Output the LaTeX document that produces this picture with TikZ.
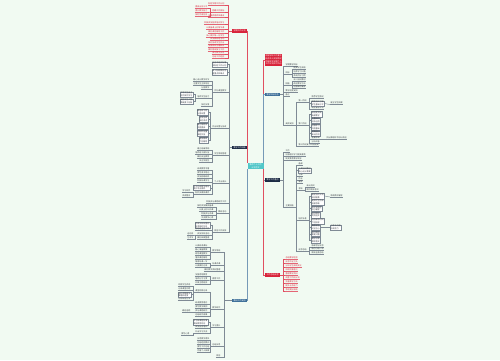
\documentclass[tikz,border=0pt]{standalone}
\usepackage{fontspec}
\newfontfamily\cjk{Noto Sans CJK SC}
\usetikzlibrary{calc}

\definecolor{bgmint}{HTML}{F1FAF2}
\definecolor{redmain}{HTML}{D8233A}
\definecolor{navymain}{HTML}{1C2B45}
\definecolor{bluemain}{HTML}{3C6E98}
\definecolor{cyanmain}{HTML}{52C7C9}
\definecolor{linegray}{HTML}{7F8A95}
\definecolor{txtgray}{HTML}{3A3F45}
\definecolor{redtxt}{HTML}{D8233A}

\tikzset{
  base/.style={font=\cjk\fontsize{2}{2.6}\selectfont, inner sep=0.4pt},
  mainnode/.style={base, text=white, minimum width=15pt, minimum height=3.6pt, inner sep=0.3pt},
  gleaf/.style={base, text=txtgray, append after command={(\tikzlastnode.south west) edge[draw=linegray, line width=0.25pt] (\tikzlastnode.south east)}},
  rleaf/.style={base, text=redtxt, append after command={(\tikzlastnode.south west) edge[draw=redtxt!70, line width=0.25pt] (\tikzlastnode.south east)}},
  note/.style={base, draw=linegray, line width=0.25pt, fill=white, text=txtgray, align=left, inner sep=0.5pt},
  ln/.style={draw=linegray, line width=0.45pt},
  rln/.style={draw=redtxt!80, line width=0.45pt},
}

\begin{document}
\begin{tikzpicture}[x=1pt,y=-1pt]
  % page and background
  \fill[bgmint] (0,0) rectangle (500,360);
  \useasboundingbox (0,0) rectangle (500,360);

  % centre and main nodes
  \node[mainnode, fill=cyanmain, minimum width=16pt, minimum height=6pt, align=center] (centre) at (255.5,166) {教师个人工作\\计划范文};
  \node[mainnode, fill=redmain] (lred) at (239.5,31) {学期工作计划};
  \node[mainnode, fill=navymain] (lnavy) at (239.5,147.5) {教学工作措施};
  \node[mainnode, fill=bluemain] (lblue) at (239.5,300.5) {教研工作安排};
  \node[base, fill=redmain, text=white, align=left, inner sep=0.8pt] (rnote) at (273.5,60) {根据学校工作要求\\结合本人实际情况\\特制定本学期个人\\工作计划如下所示};
  \node[mainnode, fill=bluemain] (rblue) at (272.5,94.5) {教学目标任务};
  \node[mainnode, fill=navymain] (rnavy) at (272.5,180) {教学工作重点};
  \node[mainnode, fill=redmain] (rred) at (272.5,275) {工作总结反思};

  \draw[ln] (centre.north west) |- (lnavy.east);
  \draw[ln, draw=bluemain!70] (centre.south west) |- (lblue.east);
  \draw[rln] (centre.north west) |- (lred.east);
  \draw[rln] (centre.north east) |- (rnote.west);
  \draw[ln, draw=bluemain!70] (centre.north east) |- (rblue.west);
  \draw[ln] (centre.south east) |- (rnavy.west);
  \draw[rln] (centre.south east) |- (rred.west);

  % left red branch
  \foreach \i/\y/\t in {1/5/制定学期工作计划, 2/12/明确工作目标, 3/17/加强师德师风建设, 4/24/积极参加各类培训学习, 5/29/认真备课上好每节课, 6/33/做好课后辅导工作, 7/37/关心爱护每一位学生, 8/40.5/参加教研组活动, 9/44/及时批改学生作业, 10/47.5/加强家校沟通联系, 11/51/做好期末复习工作, 12/54.5/撰写教学反思, 13/58/总结工作经验}
  {
    \node[rleaf, anchor=south east] (lr\i) at (225,\y) {\t};
    \draw[rln] (lred.west) -- ++(-4,0) |- (lr\i.south east);
  }
  \foreach \j/\y/\t in {1/8/提高业务水平, 2/12/提升教学能力, 3/16/按时完成任务}
  {
    \node[rleaf, anchor=south east] (lr2-\j) at (208,\y) {\t};
    \draw[rln] (lr2.south west) -- ++(-2,0) |- (lr2-\j.south east);
  }

  % left navy branch
  \node[note, anchor=east] (ln1) at (227,64.5) {结合本班实际情\\况制定工作计划};
  \node[note, anchor=east] (ln2) at (227,72) {深入钻研教材把\\握重点和难点};
  \node[gleaf, anchor=south east] (ln3) at (227,92) {优化课堂教学};
  \node[gleaf, anchor=south east] (ln4) at (227,128) {作业布置与批改};
  \node[gleaf, anchor=south east] (ln5) at (227,155) {学生常规管理};
  \node[gleaf, anchor=south east] (ln6) at (227,183) {个人专业成长};
  \node[gleaf, anchor=south east] (ln7) at (227,203) {积极参与课题研究工作};
  \node[gleaf, anchor=south east] (ln8) at (227,213) {教研活动};
  \node[gleaf, anchor=south east] (ln9) at (227,232) {其他工作安排};
  \draw[ln] (lnavy.west) -- ++(-3,0) |- (ln1.east);
  \draw[ln] (lnavy.west) -- ++(-3,0) |- (ln2.east);
  \foreach \k in {3,...,9}
    \draw[ln] (lnavy.west) -- ++(-3,0) |- (ln\k.south east);

  \foreach \j/\y/\t in {1/81/精心设计教学环节, 2/85/注重学生主体地位, 3/89/分层教学, 4/98/培养学生能力, 5/106/及时反馈}
  {
    \node[gleaf, anchor=south east] (ln3-\j) at (210,\y) {\t};
    \draw[ln] (ln3.south west) -- ++(-2,0) |- (ln3-\j.south east);
  }
  \node[note, anchor=east] (ln3-4a) at (193,94.5) {引导学生自主\\合作探究学习};
  \node[note, anchor=east] (ln3-4b) at (193,101.5) {鼓励学生大胆\\质疑勇于创新};
  \draw[ln] (ln3-4.south west) -- ++(-2,0) |- (ln3-4a.east);
  \draw[ln] (ln3-4.south west) -- ++(-2,0) |- (ln3-4b.east);

  \foreach \j/\y/\t in {1/112/{精选练习题\\分层布置}, 2/119/{全批全改\\及时讲评}, 3/126/{建立错题本\\巩固提高}, 4/133/{控制作业量\\减轻负担}, 5/140/{面批面改\\个别辅导}}
  {
    \node[note, anchor=east] (ln4-\j) at (208,\y) {\t};
    \draw[ln] (ln4.south west) -- ++(-2,0) |- (ln4-\j.east);
  }

  \foreach \j/\y/\t in {1/150.5/建立班级常规, 2/154.5/培养班干部队伍, 3/158.5/做好安全教育, 4/162.5/关注学困生}
  {
    \node[gleaf, anchor=south east] (ln5-\j) at (210,\y) {\t};
    \draw[ln] (ln5.south west) -- ++(-2,0) |- (ln5-\j.south east);
  }

  \foreach \j/\y/\t in {1/170/阅读教育专著, 2/174/撰写读书笔记, 3/178/参加网络研修, 4/182/积极听课学习, 6/194/制作多媒体课件}
  {
    \node[gleaf, anchor=south east] (ln6-\j) at (210,\y) {\t};
    \draw[ln] (ln6.south west) -- ++(-2,0) |- (ln6-\j.south east);
  }
  \node[note, anchor=east] (ln6-5) at (210,187.8) {学习先进教学理念\\提升专业素养};
  \draw[ln] (ln6.south west) -- ++(-2,0) |- (ln6-5.east);
  \foreach \j/\y/\t in {1/192/学习软件, 2/197/资源整合}
  {
    \node[gleaf, anchor=south east] (ln6-6-\j) at (191,\y) {\t};
    \draw[ln] (ln6-6.south west) -- ++(-2,0) |- (ln6-6-\j.south east);
  }

  \foreach \j/\y/\t in {1/207.5/按时参加集体备课, 2/211.5/认真上好公开课, 3/215.5/积极参与评课, 4/219.5/交流教学心得}
  {
    \node[gleaf, anchor=south east] (ln8-\j) at (214,\y) {\t};
    \draw[ln] (ln8.south west) -- ++(-2,0) |- (ln8-\j.south east);
  }

  \node[note, anchor=east] (ln9-1) at (210,225) {完成学校布置的\\各项临时任务};
  \draw[ln] (ln9.south west) -- ++(-2,0) |- (ln9-1.east);
  \foreach \j/\y/\t in {2/230.5/协助班主任工作, 3/235/参加学校活动, 4/239.5/做好档案整理}
  {
    \node[gleaf, anchor=south east] (ln9-\j) at (210,\y) {\t};
    \draw[ln] (ln9.south west) -- ++(-2,0) |- (ln9-\j.south east);
  }
  \foreach \j/\y/\t in {1/235/运动会, 2/239.5/艺术节}
  {
    \node[gleaf, anchor=south east] (ln9-3-\j) at (194,\y) {\t};
    \draw[ln] (ln9-3.south west) -- ++(-2,0) |- (ln9-3-\j.south east);
  }

  % left blue branch
  \foreach \i/\y/\t in {1/252/教学常规, 2/265/听课评课, 3/271/做好教学资料整理, 4/280/德育工作, 5/309/教学研究, 6/327/学习提升, 7/346/总结反思, 8/357/其他}
  {
    \node[gleaf, anchor=south east] (lb\i) at (221,\y) {\t};
    \draw[ln] (lblue.west) -- ++(-8,0) |- (lb\i.south east);
  }
  \foreach \j/\y/\t in {1/247/认真研读课标, 2/251/精心准备教案, 3/255/规范课堂教学, 4/259/落实课后辅导}
  {
    \node[gleaf, anchor=south east] (lb1-\j) at (208,\y) {\t};
    \draw[ln] (lb1.south west) -- ++(-2,0) |- (lb1-\j.south east);
  }
  \foreach \j/\y/\t in {1/263/每周听课一节, 2/267/认真做好记录}
  {
    \node[gleaf, anchor=south east] (lb2-\j) at (208,\y) {\t};
    \draw[ln] (lb2.south west) -- ++(-2,0) |- (lb2-\j.south east);
  }
  \foreach \j/\y/\t in {1/276/加强思想教育, 2/280/培养行为习惯, 3/284/开展主题班会}
  {
    \node[gleaf, anchor=south east] (lb4-\j) at (208,\y) {\t};
    \draw[ln] (lb4.south west) -- ++(-2,0) |- (lb4-\j.south east);
  }
  \foreach \j/\y/\t in {1/292/课堂观察记录, 2/304/研读教育理论, 3/308/撰写教学案例, 4/312/参与课题研究, 5/316/总结研究成果}
  {
    \node[gleaf, anchor=south east] (lb5-\j) at (208,\y) {\t};
    \draw[ln] (lb5.south west) -- ++(-2,0) |- (lb5-\j.south east);
  }
  \foreach \j/\y/\t in {1/286/观察学生表现, 2/290/记录课堂问题, 4/300/分析改进方法}
  {
    \node[gleaf, anchor=south east] (lb5-1-\j) at (191,\y) {\t};
    \draw[ln] (lb5-1.south west) -- ++(-2,0) |- (lb5-1-\j.south east);
  }
  \node[note, anchor=east] (lb5-1-3) at (191,294.6) {及时调整教学\\策略和进度};
  \draw[ln] (lb5-1.south west) -- ++(-2,0) |- (lb5-1-3.east);
  \node[gleaf, anchor=south east] (lb5-4-1) at (191,312) {确定选题};
  \draw[ln] (lb5-4.south west) -- (lb5-4-1.south east);
  \node[note, anchor=east] (lb6-1) at (208,322) {学习新课程标准\\更新教育观念};
  \draw[ln] (lb6.south west) -- ++(-2,0) |- (lb6-1.east);
  \foreach \j/\y/\t in {2/328/参加业务培训, 3/333/外出学习交流}
  {
    \node[gleaf, anchor=south east] (lb6-\j) at (208,\y) {\t};
    \draw[ln] (lb6.south west) -- ++(-2,0) |- (lb6-\j.south east);
  }
  \node[gleaf, anchor=south east] (lb6-3-1) at (190,335) {撰写心得};
  \draw[ln] (lb6-3.south west) -- ++(-2,0) |- (lb6-3-1.south east);
  \foreach \j/\y/\t in {1/340/反思教学得失, 2/344/总结经验教训, 3/348/撰写工作总结, 4/352/完善个人档案}
  {
    \node[gleaf, anchor=south east] (lb7-\j) at (210,\y) {\t};
    \draw[ln] (lb7.south west) -- ++(-2,0) |- (lb7-\j.south east);
  }

  % right blue branch
  \foreach \i/\y/\t in {1/66/学期教学目标, 2/74/目标, 3/85/措施, 4/92/教学进度安排, 5/96/备注, 6/125/具体安排}
  {
    \node[gleaf, anchor=south west] (rb\i) at (285,\y) {\t};
    \draw[ln] (rblue.east) -- ++(3,0) |- (rb\i.south west);
  }
  \foreach \j/\y/\t in {1/69.5/提高学生成绩, 2/73.5/培养学习兴趣, 3/77.5/养成良好习惯}
  {
    \node[gleaf, anchor=south west] (rb2-\j) at (293,\y) {\t};
    \draw[ln] (rb2.south east) -- ++(2,0) |- (rb2-\j.south west);
  }
  \foreach \j/\y/\t in {1/81.5/深入钻研教材, 2/85/改进教学方法, 3/88.5/加强课后辅导}
  {
    \node[gleaf, anchor=south west] (rb3-\j) at (293,\y) {\t};
    \draw[ln] (rb3.south east) -- ++(2,0) |- (rb3-\j.south west);
  }
  \foreach \j/\y/\t in {1/102/第一阶段, 2/125/第二阶段, 3/146/第三阶段复习巩固提高}
  {
    \node[gleaf, anchor=south west] (rb6-\j) at (298,\y) {\t};
    \draw[ln] (rb6.south east) -- ++(2,0) |- (rb6-\j.south west);
  }
  \foreach \j/\y/\t in {1/98.5/熟悉学生情况, 3/109.5/制定辅导计划}
  {
    \node[gleaf, anchor=south west] (rb6-1-\j) at (311,\y) {\t};
    \draw[ln] (rb6-1.south east) -- ++(2,0) |- (rb6-1-\j.south west);
  }
  \node[note, anchor=west] (rb6-1-2) at (311,103.5) {摸底测试了解\\学生基础水平};
  \draw[ln] (rb6-1.south east) -- ++(2,0) |- (rb6-1-2.west);
  \node[gleaf, anchor=south west] (rb6-1-2x) at (330,104.5) {建立学生档案};
  \draw[ln] (rb6-1-2.east) -- (rb6-1-2x.south west);
  \foreach \j/\y/\t in {1/114/{按进度完成\\新课教学}, 2/120.5/{注重知识\\迁移运用}, 3/127/{加强练习\\巩固基础}, 4/133.5/{定期进行\\单元检测}}
  {
    \node[note, anchor=west] (rb6-2-\j) at (311,\y) {\t};
    \draw[ln] (rb6-2.south east) -- ++(2,0) |- (rb6-2-\j.west);
  }
  \foreach \j/\y/\t in {5/139.5/查漏补缺, 6/143/分析试卷}
  {
    \node[gleaf, anchor=south west] (rb6-2-\j) at (311,\y) {\t};
    \draw[ln] (rb6-2.south east) -- ++(2,0) |- (rb6-2-\j.south west);
  }
  \node[gleaf, anchor=south west] (rb6-2-5x) at (326,139.5) {找出薄弱环节加以改进};
  \draw[ln] (rb6-2-5.south east) -- (rb6-2-5x.south west);

  % right navy branch
  \foreach \i/\y/\t in {1/152.5/工作, 2/156.5/加强理论学习提高素质, 3/160.5/转变教育教学观念, 4/207/主要措施}
  {
    \node[gleaf, anchor=south west] (rn\i) at (285,\y) {\t};
    \draw[ln] (rnavy.east) -- ++(3,0) |- (rn\i.south west);
  }
  \foreach \j/\y/\t in {1/165/备课, 3/176.5/上课, 4/180/作业, 5/183.5/辅导, 6/190/考核, 7/220/培优补差, 8/251/反思总结}
  {
    \node[gleaf, anchor=south west] (rn4-\j) at (298,\y) {\t};
    \draw[ln] (rn4.south east) -- ++(2,0) |- (rn4-\j.south west);
  }
  \node[note, anchor=west] (rn4-2) at (298,170.5) {认真钻研教材\\精心设计教案};
  \draw[ln] (rn4.south east) -- ++(2,0) |- (rn4-2.west);
  \foreach \j/\y/\t in {1/187.5/单元测试, 2/191.5/期中期末考试}
  {
    \node[gleaf, anchor=south west] (rn4-6-\j) at (306,\y) {\t};
    \draw[ln] (rn4-6.south east) -- ++(2,0) |- (rn4-6-\j.south west);
  }
  \foreach \j/\y/\t in {1/196/{制定培优计划\\因材施教}, 2/202.3/{发挥优生特长\\拓展思维}, 3/208.6/{关注学困生\\耐心辅导}, 4/214.9/{结对帮扶\\共同进步}, 5/221.2/{利用课余时间\\个别指导}, 6/227.5/{鼓励学生\\树立信心}, 7/233.8/{及时表扬\\激发兴趣}, 8/240.1/{做好记录\\跟踪落实}}
  {
    \node[note, anchor=west] (rn4-7-\j) at (311,\y) {\t};
    \draw[ln] (rn4-7.south east) -- ++(2,0) |- (rn4-7-\j.west);
  }
  \node[gleaf, anchor=south west] (rn4-7-1x) at (330,197) {每周两次辅导};
  \draw[ln] (rn4-7-1.east) -- (rn4-7-1x.south west);
  \node[note, anchor=west] (rn4-7-6x) at (330,227.5) {与家长沟通\\形成合力};
  \draw[ln] (rn4-7-6.east) -- (rn4-7-6x.west);
  \foreach \j/\y/\t in {1/247/每课写好反思, 2/250.5/每月小结一次, 3/254/期末全面总结}
  {
    \node[gleaf, anchor=south west] (rn4-8-\j) at (311,\y) {\t};
    \draw[ln] (rn4-8.south east) -- ++(2,0) |- (rn4-8-\j.south west);
  }

  % right red branch
  \foreach \i/\y/\t in {1/259/总结教学经验, 2/263/反思不足之处, 3/267/分析学生成绩变化, 4/271/听取同事意见, 5/275/整理教学资料, 6/279/调整下阶段计划, 7/283/完善教学方法, 8/287/提升业务能力, 9/291/争取更好成绩}
  {
    \node[rleaf, anchor=south west] (rr\i) at (285,\y) {\t};
    \draw[rln] (rred.east) -- ++(3,0) |- (rr\i.south west);
  }
\end{tikzpicture}
\end{document}
